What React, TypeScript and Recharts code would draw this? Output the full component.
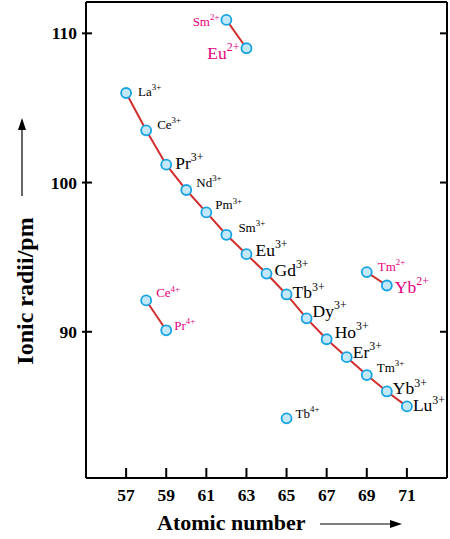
import React from 'react'
import { ScatterChart, Scatter, XAxis, YAxis } from 'recharts'

// atomic numbers / radii (pm)
const Z3 = [57, 58, 59, 60, 61, 62, 63, 64, 65, 66, 67, 68, 69, 70, 71]
const R3 = [106.0, 103.5, 101.2, 99.5, 98.0, 96.5, 95.2, 93.9, 92.5, 90.9, 89.5, 88.3, 87.1, 86.0, 85.0]
const SYM3 = ['La', 'Ce', 'Pr', 'Nd', 'Pm', 'Sm', 'Eu', 'Gd', 'Tb', 'Dy', 'Ho', 'Er', 'Tm', 'Yb', 'Lu']

const Z2A = [62, 63]
const R2A = [110.9, 109.0]
const SYM2A = ['Sm', 'Eu']

const Z2B = [69, 70]
const R2B = [94.0, 93.1]
const SYM2B = ['Tm', 'Yb']

const Z4A = [58, 59]
const R4A = [92.1, 90.1]
const SYM4A = ['Ce', 'Pr']

const Z4B = [65]
const R4B = [84.2]
const SYM4B = ['Tb']

const X_TICKS = [57, 59, 61, 63, 65, 67, 69, 71]
const Y_TICKS = [90, 100, 110]

const SERIF = '"Liberation Serif", "Times New Roman", serif'
const MAGENTA = '#e5007e'
const RED = '#d12e2e'

const SMALL = 13
const LARGE = 17.5

// label placement relative to the marker: [fontSize, dx, dy, anchor]
const LABEL_POS: Record<string, [number, number, number, string]> = {
  'La3+': [SMALL, 12, 3, 'start'],
  'Ce3+': [SMALL, 11, -1, 'start'],
  'Pr3+': [LARGE, 9, 4, 'start'],
  'Nd3+': [SMALL, 10, -3, 'start'],
  'Pm3+': [SMALL, 9, -3, 'start'],
  'Sm3+': [SMALL, 12, -3, 'start'],
  'Eu3+': [LARGE, 9, 2, 'start'],
  'Gd3+': [LARGE, 8, 2, 'start'],
  'Tb3+': [LARGE, 6, 4, 'start'],
  'Dy3+': [LARGE, 6, -1, 'start'],
  'Ho3+': [LARGE, 8, -1, 'start'],
  'Er3+': [LARGE, 6, 1, 'start'],
  'Tm3+': [SMALL, 10, -3, 'start'],
  'Yb3+': [LARGE, 6, 3, 'start'],
  'Lu3+': [LARGE, 6, 5, 'start'],
  'Sm2+': [SMALL, -7, 6, 'end'],
  'Eu2+': [LARGE, -7, 11, 'end'],
  'Tm2+': [SMALL, 11, -1, 'start'],
  'Yb2+': [LARGE, 8, 7, 'start'],
  'Ce4+': [SMALL, 10, -3, 'start'],
  'Pr4+': [SMALL, 8, 0, 'start'],
  'Tb4+': [SMALL, 9, 0, 'start'],
}

const build = (z: number[], r: number[], sym: string[], charge: string, color: string) =>
  z.map((v, i) => ({ z: v, r: r[i], sym: sym[i], charge, color }))

const tri = build(Z3, R3, SYM3, '3+', '#000')
const di1 = build(Z2A, R2A, SYM2A, '2+', MAGENTA)
const di2 = build(Z2B, R2B, SYM2B, '2+', MAGENTA)
const tetra1 = build(Z4A, R4A, SYM4A, '4+', MAGENTA)
const tetra2 = build(Z4B, R4B, SYM4B, '4+', '#000')

const Ion = (props: any) => {
  const { cx, cy, payload } = props
  const [size, dx, dy, anchor] = LABEL_POS[payload.sym + payload.charge]
  return (
    <g>
      <circle cx={cx} cy={cy} r={5} fill="#c3e8f9" stroke="#17a3e3" strokeWidth={1.8} />
      <text
        x={cx + dx}
        y={cy + dy}
        fill={payload.color}
        fontFamily={SERIF}
        fontSize={size}
        textAnchor={anchor}
      >
        {payload.sym}
        <tspan dy={-size * 0.45} fontSize={size * 0.68}>
          {payload.charge}
        </tspan>
      </text>
    </g>
  )
}

const BottomTick = ({ x, y, payload }: any) => (
  <g>
    <line x1={x} y1={y} x2={x} y2={y - 10} stroke="#000" strokeWidth={2} />
    <text x={x} y={y + 23} textAnchor="middle" fontFamily={SERIF} fontWeight="bold" fontSize={17.5}>
      {payload.value}
    </text>
  </g>
)

const TopTick = ({ x, y }: any) => <line x1={x} y1={y} x2={x} y2={y + 10} stroke="#000" strokeWidth={2} />

const LeftTick = ({ x, y, payload }: any) => (
  <g>
    <line x1={x - 4} y1={y} x2={x + 6} y2={y} stroke="#000" strokeWidth={2} />
    <text x={x - 9} y={y + 6} textAnchor="end" fontFamily={SERIF} fontWeight="bold" fontSize={17.5}>
      {payload.value}
    </text>
  </g>
)

const RightTick = ({ x, y }: any) => <line x1={x} y1={y} x2={x - 7} y2={y} stroke="#000" strokeWidth={2} />

const XTitle = ({ viewBox }: any) => {
  const { x, y } = viewBox
  return (
    <g>
      <text x={x + 71} y={y + 52} fontFamily={SERIF} fontWeight="bold" fontSize={22}>
        Atomic number
      </text>
      <line x1={x + 234} y1={y + 46} x2={x + 306} y2={y + 46} stroke="#000" strokeWidth={1.2} />
      <polygon points={`${x + 316},${y + 46} ${x + 304},${y + 42} ${x + 304},${y + 50}`} fill="#000" />
    </g>
  )
}

const YTitle = () => (
  <g>
    <text
      x={0}
      y={0}
      transform="translate(33 291) rotate(-90)"
      textAnchor="middle"
      fontFamily={SERIF}
      fontWeight="bold"
      fontSize={24}
    >
      Ionic radii/pm
    </text>
    <line x1={22} y1={196} x2={22} y2={128} stroke="#000" strokeWidth={1.2} />
    <polygon points="22,118 18,130 26,130" fill="#000" />
  </g>
)

export default function App() {
  return (
    <div style={{ position: 'absolute', left: 0, top: 0, background: '#fff' }}>
      <ScatterChart width={450} height={539} margin={{ top: 0, right: 0, bottom: 0, left: 0 }}>
        <XAxis
          type="number"
          dataKey="z"
          domain={[55, 73]}
          ticks={X_TICKS}
          allowDataOverflow
          height={61}
          tickSize={0}
          tickMargin={0}
          tick={<BottomTick />}
          axisLine={{ stroke: '#000', strokeWidth: 2 }}
          label={{ content: <XTitle /> }}
        />
        <XAxis
          xAxisId="top"
          orientation="top"
          type="number"
          domain={[55, 73]}
          ticks={X_TICKS}
          allowDataOverflow
          height={2}
          tickSize={0}
          tickMargin={0}
          tick={<TopTick />}
          axisLine={{ stroke: '#000', strokeWidth: 2 }}
        />
        <YAxis
          type="number"
          dataKey="r"
          domain={[80.2, 112.1]}
          ticks={Y_TICKS}
          allowDataOverflow
          width={86}
          tickSize={0}
          tickMargin={0}
          tick={<LeftTick />}
          axisLine={{ stroke: '#000', strokeWidth: 2 }}
          label={{ content: <YTitle /> }}
        />
        <YAxis
          yAxisId="right"
          orientation="right"
          type="number"
          domain={[80.2, 112.1]}
          ticks={Y_TICKS}
          allowDataOverflow
          width={3}
          tickSize={0}
          tickMargin={0}
          tick={<RightTick />}
          axisLine={{ stroke: '#000', strokeWidth: 2 }}
        />
        <Scatter data={tri} line={{ stroke: RED, strokeWidth: 2 }} shape={<Ion />} isAnimationActive={false} />
        <Scatter data={di1} line={{ stroke: RED, strokeWidth: 2 }} shape={<Ion />} isAnimationActive={false} />
        <Scatter data={di2} line={{ stroke: RED, strokeWidth: 2 }} shape={<Ion />} isAnimationActive={false} />
        <Scatter data={tetra1} line={{ stroke: RED, strokeWidth: 2 }} shape={<Ion />} isAnimationActive={false} />
        <Scatter data={tetra2} shape={<Ion />} isAnimationActive={false} />
      </ScatterChart>
    </div>
  )
}
